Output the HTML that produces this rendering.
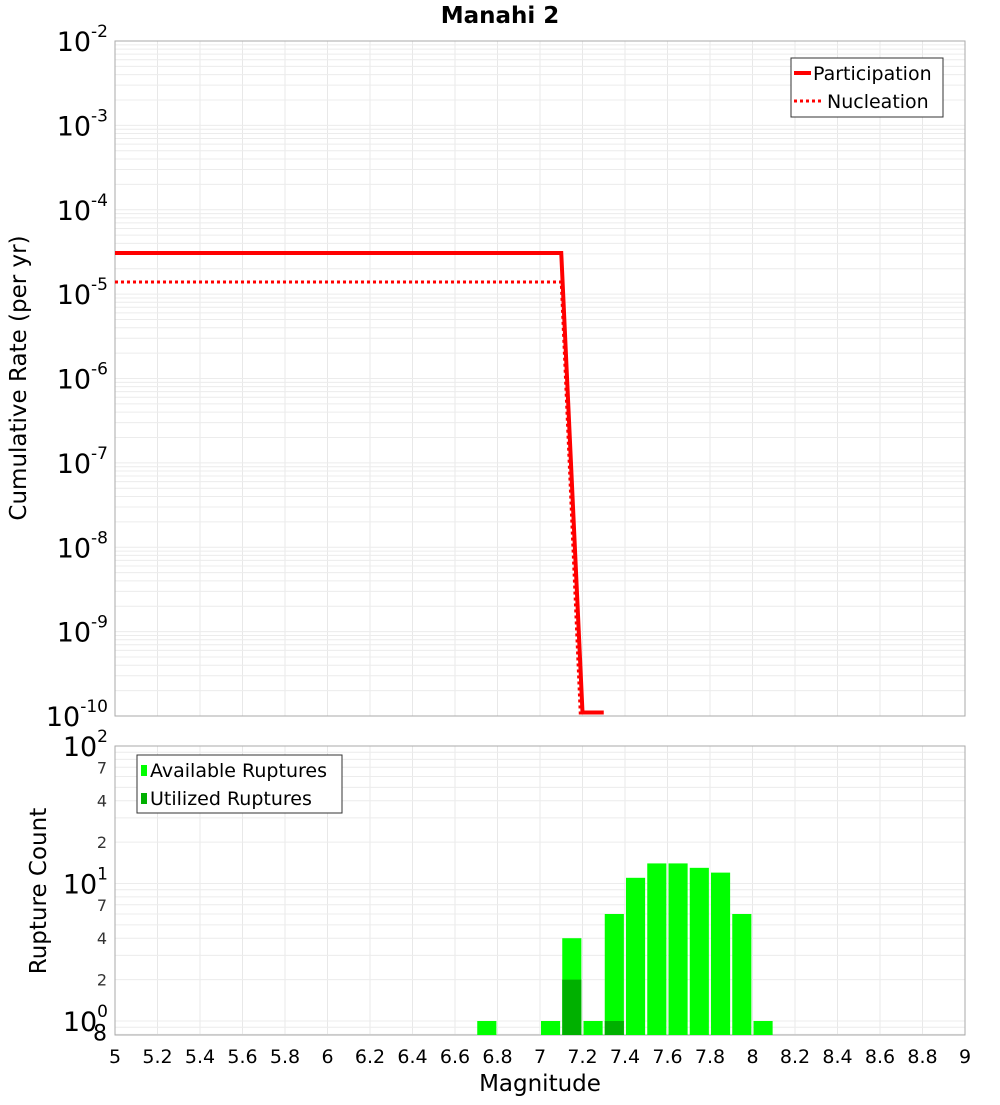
<!DOCTYPE html>
<html><head><meta charset="utf-8"><style>
body{margin:0;background:#fff;font-family:"Liberation Sans","DejaVu Sans",sans-serif}
svg text{font-family:"DejaVu Sans","Liberation Sans",sans-serif}
</style></head><body>
<svg id="c" width="1000" height="1100" xmlns="http://www.w3.org/2000/svg">
<text x="500" y="23" text-anchor="middle" font-size="23" font-weight="bold">Manahi 2</text>
<text transform="translate(26,378) rotate(-90)" text-anchor="middle" font-size="23">Cumulative Rate (per yr)</text>
<text transform="translate(46,891) rotate(-90)" text-anchor="middle" font-size="23">Rupture Count</text>
<text x="540" y="1091" text-anchor="middle" font-size="23">Magnitude</text>
</svg>
<script>
const partMags=[5,7.1,7.2,7.3];
const partRates=[3.07e-5,3.07e-5,1.1e-10,1.1e-10];
const nuclMags=[5,7.1,7.19];
const nuclRates=[1.39e-5,1.39e-5,1e-10];
const binMags=[6.7,7.0,7.1,7.2,7.3,7.4,7.5,7.6,7.7,7.8,7.9,8.0];
const availCounts=[1,1,4,1,6,11,14,14,13,12,6,1];
const utilCounts=[0,0,2,0,1,0,0,0,0,0,0,0];
const xTicks=[5,5.2,5.4,5.6,5.8,6,6.2,6.4,6.6,6.8,7,7.2,7.4,7.6,7.8,8,8.2,8.4,8.6,8.8,9];
const topExp=[-2,-3,-4,-5,-6,-7,-8,-9,-10];
const botMinor=[[0.8,"8"],[2,"2"],[4,"4"],[7,"7"],[20,"2"],[40,"4"],[70,"7"]];

const NS="http://www.w3.org/2000/svg",svg=document.getElementById('c');
function el(t,a,p){const e=document.createElementNS(NS,t);for(const k in a)e.setAttribute(k,a[k]);(p||svg).appendChild(e);return e;}
const X0=115,X1=965;
const x=m=>X0+(m-5)/4*(X1-X0);
const T0=41,T1=716;
const yT=v=>T0+(-2-Math.log10(v))/8*(T1-T0);
const B0=746,B1=1035,dec=137.5;
const yB=v=>B0+(2-Math.log10(v))*dec;

const g=el('g',{});

for(const t of xTicks){
  el('line',{x1:x(t),x2:x(t),y1:T0,y2:T1,stroke:'#e8e8e8'},g);
  el('line',{x1:x(t),x2:x(t),y1:B0,y2:B1,stroke:'#e8e8e8'},g);
}
for(let e=-10;e<-2;e++)for(let k=1;k<10;k++){const y=yT(k*Math.pow(10,e));el('line',{x1:X0,x2:X1,y1:y,y2:y,stroke:'#ececec'},g);}
for(let e=-1;e<2;e++)for(let k=1;k<10;k++){const v=k*Math.pow(10,e);const y=yB(v);if(y>B1||y<B0)continue;el('line',{x1:X0,x2:X1,y1:y,y2:y,stroke:'#ececec'},g);}

const f1=el('rect',{x:X0,y:T0,width:X1-X0,height:T1-T0,fill:'none',stroke:'#aaa'});

const f2=el('rect',{x:X0,y:B0,width:X1-X0,height:B1-B0,fill:'none',stroke:'#aaa'});


for(const e of topExp){
  const t=el('text',{x:108,y:yT(Math.pow(10,e))+10,'text-anchor':'end','font-size':27});
  
  t.innerHTML='10<tspan dy="-14" font-size="17">'+e+'</tspan>';
}
[[100,'2'],[10,'1'],[1,'0']].forEach(([v,s])=>{
  const t=el('text',{x:108,y:yB(v)+10,'text-anchor':'end','font-size':27});
  
  t.innerHTML='10<tspan dy="-14" font-size="17">'+s+'</tspan>';
});
for(const [v,s] of botMinor){
  const t=el('text',{x:107,y:yB(v)+6,'text-anchor':'end','font-size':v<1?22:16,fill:v<1?'#000':'#333'});
  
  t.textContent=s;
}
for(const t of xTicks){
  const tx=el('text',{x:x(t),y:1063,'text-anchor':'middle','font-size':19});
  
  tx.textContent=String(t);
}
const pp=el('polyline',{points:partMags.map((m,i)=>x(m)+','+yT(partRates[i])).join(' '),fill:'none',stroke:'#f00','stroke-width':4});

const np=el('polyline',{points:nuclMags.map((m,i)=>x(m)+','+yT(nuclRates[i])).join(' '),fill:'none',stroke:'#f00','stroke-width':3,'stroke-dasharray':'3,3'});


const bw=x(5.09)-x(5);
binMags.forEach((m,i)=>{
  const a=availCounts[i];
  if(a>0){const r=el('rect',{x:x(m)+1,y:yB(a),width:bw,height:B1-yB(a),fill:'#00ff00'});
    }
  const u=utilCounts[i];
  if(u>0){const r=el('rect',{x:x(m)+1,y:yB(u),width:bw,height:B1-yB(u),fill:'#00b000'});
    }
});

const l1=el('g',{});
el('rect',{x:791,y:58,width:152,height:59,fill:'#fff',stroke:'#333'},l1);
el('line',{x1:794,x2:811,y1:73,y2:73,stroke:'#f00','stroke-width':4},l1);
el('line',{x1:794,x2:821,y1:101,y2:101,stroke:'#f00','stroke-width':3,'stroke-dasharray':'3,3'},l1);
let t=el('text',{x:813,y:80,'font-size':19},l1);t.textContent='Participation';
t=el('text',{x:827,y:108,'font-size':19},l1);t.textContent='Nucleation';
const l2=el('g',{});
el('rect',{x:137,y:755,width:205,height:58,fill:'#fff',stroke:'#333'},l2);
el('rect',{x:141,y:765,width:6,height:11,fill:'#00ff00'},l2);
el('rect',{x:141,y:793,width:6,height:11,fill:'#00b000'},l2);
t=el('text',{x:150,y:777,'font-size':19},l2);t.textContent='Available Ruptures';
t=el('text',{x:150,y:805,'font-size':19},l2);t.textContent='Utilized Ruptures';
</script>
</body></html>
